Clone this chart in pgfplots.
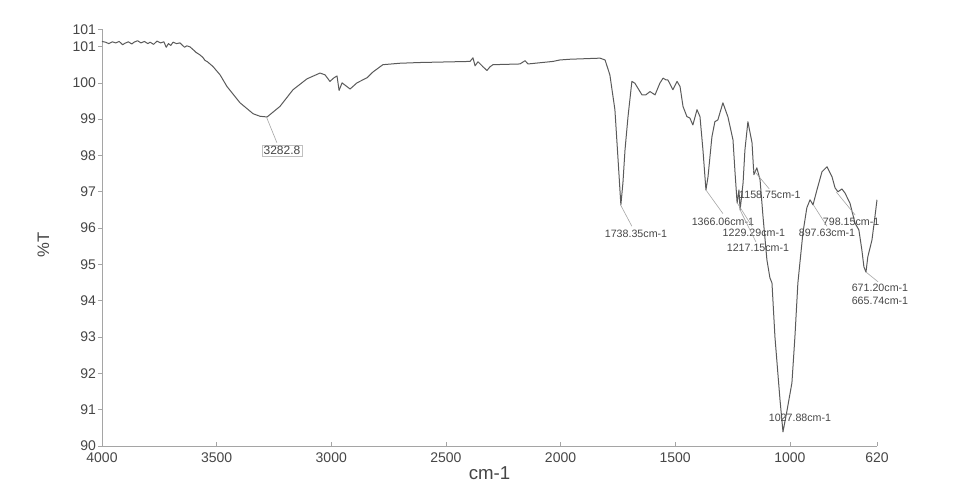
\documentclass[border=0pt]{standalone}
\usepackage{fontspec}
\setmainfont{Liberation Sans}
\usepackage{pgfplots}
\pgfplotsset{compat=1.18}
\definecolor{curve}{RGB}{90,90,90}
\definecolor{txt}{RGB}{70,70,70}
\definecolor{lead}{RGB}{165,165,165}
\tikzset{anno/.style={font=\fontsize{8}{9}\selectfont, text=txt, inner sep=0.8pt}}
\pgfplotstableread{
x y
4000 101.14
3985 101.12
3970 101.08
3955 101.13
3940 101.10
3925 101.14
3910 101.05
3900 101.09
3885 101.13
3870 101.07
3860 101.12
3845 101.16
3830 101.10
3815 101.14
3800 101.08
3790 101.12
3775 101.06
3760 101.15
3745 101.10
3730 101.13
3720 100.98
3710 101.08
3700 101.03
3690 101.12
3675 101.08
3660 101.10
3640 100.98
3630 101.02
3616 100.99
3600 100.90
3590 100.84
3573 100.77
3560 100.70
3551 100.62
3540 100.58
3516 100.45
3485 100.22
3455 99.90
3398 99.45
3341 99.15
3311 99.08
3280 99.06
3224 99.35
3167 99.81
3106 100.11
3049 100.27
3027 100.22
3006 100.04
2988 100.14
2975 100.19
2966 99.79
2953 100.00
2918 99.83
2888 100.00
2844 100.14
2818 100.30
2775 100.50
2700 100.54
2613 100.56
2395 100.59
2382 100.69
2373 100.47
2360 100.58
2338 100.44
2321 100.34
2308 100.44
2295 100.50
2177 100.52
2155 100.61
2142 100.52
2033 100.59
2003 100.63
1959 100.65
1828 100.68
1806 100.63
1785 100.22
1763 99.26
1750 97.96
1737 96.64
1728 97.25
1719 98.15
1706 99.06
1689 100.04
1676 99.99
1645 99.67
1628 99.67
1610 99.76
1588 99.67
1567 99.99
1553 100.13
1540 100.08
1532 100.08
1510 99.81
1492 100.04
1479 99.90
1466 99.35
1449 99.07
1436 99.03
1423 98.84
1405 99.26
1392 99.07
1379 98.15
1366 97.05
1357 97.41
1340 98.51
1327 98.93
1314 98.98
1292 99.45
1270 99.06
1248 98.43
1239 97.52
1230 96.69
1222 97.05
1217 96.50
1204 97.25
1196 98.15
1183 98.93
1165 98.35
1157 97.47
1144 97.66
1130 97.33
1117 96.31
1100 95.12
1087 94.63
1078 94.49
1065 93.00
1043 91.27
1030 90.39
1012 90.99
991 91.74
978 93.00
965 94.49
943 95.87
926 96.56
912 96.78
899 96.64
882 97.05
860 97.55
838 97.69
816 97.41
803 97.11
790 97.00
773 97.08
760 96.97
738 96.69
716 96.14
699 95.95
686 95.40
677 94.93
668 94.79
660 95.21
642 95.67
629 96.31
620 96.78
}\spectrum
\begin{document}
\begin{tikzpicture}
\begin{axis}[
  at={(0pt,0pt)}, anchor=south west,
  scale only axis, width=581.25pt, height=312.4pt,
  xmin=620, xmax=4000, x dir=reverse,
  ymin=90, ymax=101.47,
  axis lines*=left,
  axis line style={draw=lead, line width=0.6pt},
  clip=false,
  xtick={4000,3500,3000,2500,2000,1500,1000,620},
  xticklabels={4000,3500,3000,2500,2000,1500,1000,620},
  ytick={90,91,92,93,94,95,96,97,98,99,100,101,101.47},
  yticklabels={90,91,92,93,94,95,96,97,98,99,100,101,101},
  tick align=inside,
  major tick length=3pt,
  tick style={draw=lead, line width=0.5pt},
  ytick style={xshift=-3pt},
  ticklabel style={font=\fontsize{10.5}{12}\selectfont, text=txt},
  xticklabel style={yshift=-1.8pt},
  yticklabel style={xshift=-1pt},
  xlabel={cm-1}, ylabel={\%T},
  xlabel style={font=\fontsize{14}{16}\selectfont, text=txt, at={(axis description cs:0.5,-0.066)}, anchor=center},
  ylabel style={font=\fontsize{12.5}{14}\selectfont, text=txt, at={(axis description cs:-0.0757,0.483)}, anchor=center},
]
\addplot[curve, line width=0.75pt, line join=round] table[x=x, y=y] {\spectrum};
% annotations
\draw[lead, line width=0.45pt] (axis cs:3282.8,99.06) -- (axis cs:3237,98.35);
\node[anno, draw=lead!70, line width=0.4pt, inner sep=1.2pt, font=\fontsize{9}{10}\selectfont] at (axis cs:3215,98.13) {3282.8};
\draw[lead, line width=0.45pt] (axis cs:1738.35,96.64) -- (axis cs:1689,96.05);
\node[anno] at (axis cs:1671,95.84) {1738.35cm-1};
\draw[lead, line width=0.45pt] (axis cs:1366.06,97.05) -- (axis cs:1292,96.40);
\node[anno] at (axis cs:1292,96.17) {1366.06cm-1};
\draw[lead, line width=0.45pt] (axis cs:1229.29,96.69) -- (axis cs:1165,96.05);
\node[anno] at (axis cs:1157,95.87) {1229.29cm-1};
\draw[lead, line width=0.45pt] (axis cs:1217.15,96.50) -- (axis cs:1148,95.62);
\node[anno] at (axis cs:1139,95.45) {1217.15cm-1};
\draw[lead, line width=0.45pt] (axis cs:1158.75,97.60) -- (axis cs:1090,97.08);
\node[anno] at (axis cs:1087,96.91) {1158.75cm-1};
\draw[lead, line width=0.45pt] (axis cs:798.15,97.00) -- (axis cs:715,96.36);
\node[anno] at (axis cs:733,96.17) {798.15cm-1};
\draw[lead, line width=0.45pt] (axis cs:897.63,96.64) -- (axis cs:838,96.05);
\node[anno] at (axis cs:838,95.87) {897.63cm-1};
\draw[lead, line width=0.45pt] (axis cs:668,94.79) -- (axis cs:615,94.52);
\node[anno] at (axis cs:607,94.35) {671.20cm-1};
\node[anno] at (axis cs:607,93.99) {665.74cm-1};
\node[anno] at (axis cs:956,90.77) {1027.88cm-1};
\end{axis}
\pgfresetboundingbox
\path[use as bounding box] (-76.5pt,-35.25pt) rectangle (651.75pt,334.5pt);
\end{tikzpicture}
\end{document}
